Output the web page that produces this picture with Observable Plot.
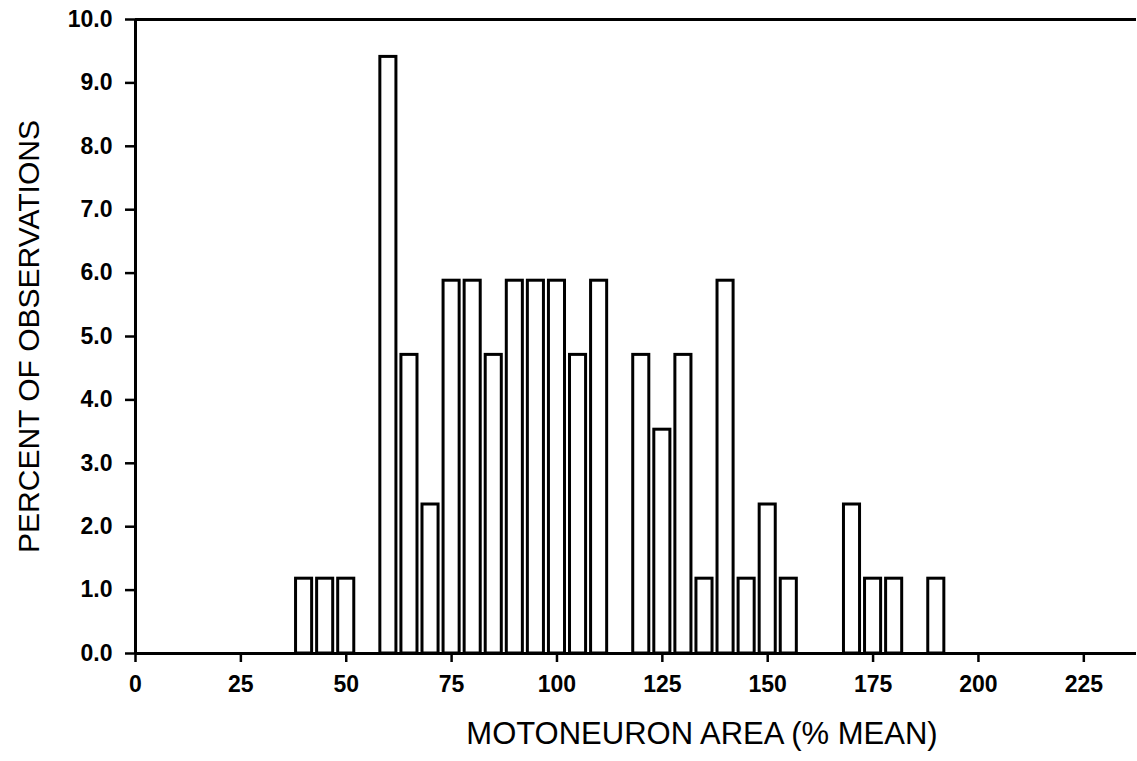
<!DOCTYPE html>
<html>
<head>
<meta charset="utf-8">
<script src="https://cdn.jsdelivr.net/npm/d3@7"></script>
<script src="https://cdn.jsdelivr.net/npm/@observablehq/plot@0.6"></script>
<style>
  html, body { margin: 0; padding: 0; background: #fff; }
  #chart svg { display: block; }
  g[aria-label="y-axis tick label"] text, g[aria-label="x-axis tick label"] text { font-weight: bold; }
</style>
</head>
<body>
<div id="chart"></div>
<script>
// Bin centers (% of mean motoneuron area) and percent of observations
const binCenters = [40, 45, 50, 60, 65, 70, 75, 80, 85, 90, 95, 100, 105, 110, 120, 125, 130, 135, 140, 145, 150, 155, 170, 175, 180, 190];
const percents = [1.18, 1.18, 1.18, 9.41, 4.71, 2.35, 5.88, 5.88, 4.71, 5.88, 5.88, 5.88, 4.71, 5.88, 4.71, 3.53, 4.71, 1.18, 5.88, 1.18, 2.35, 1.18, 2.35, 1.18, 1.18, 1.18];
const binWidth = 5;
const xTicks = [0, 25, 50, 75, 100, 125, 150, 175, 200, 225];
const yTicks = [0, 1, 2, 3, 4, 5, 6, 7, 8, 9, 10];
const xTitle = "MOTONEURON AREA (% MEAN)";
const yTitle = "PERCENT OF OBSERVATIONS";
const xMax = 237.5;
const yMax = 10;

const bars = binCenters.map((c, i) => ({x1: c - binWidth / 2, x2: c + binWidth / 2, y: percents[i]}));

const chart = Plot.plot({
  width: 1137,
  height: 761,
  marginLeft: 135,
  marginRight: 1,
  marginTop: 19,
  marginBottom: 108,
  style: {fontFamily: "'Liberation Sans', Arial, sans-serif", background: "#fff", color: "#000"},
  x: {domain: [0, xMax]},
  y: {domain: [0, yMax]},
  marks: [
    Plot.rectY(bars, {x1: "x1", x2: "x2", y: "y", fill: "white", stroke: "black", strokeWidth: 3, insetLeft: 2.5, insetRight: 2.5}),
    Plot.ruleY([0], {stroke: "black", strokeWidth: 3}),
    Plot.ruleY([yMax], {stroke: "black", strokeWidth: 3}),
    Plot.ruleX([0], {stroke: "black", strokeWidth: 3}),
    Plot.axisY({ticks: yTicks, tickFormat: d3.format(".1f"), tickSize: 10, tickPadding: 13, fontSize: 23, label: null, strokeWidth: 2.5}),
    Plot.axisX({ticks: xTicks, tickFormat: d3.format("d"), tickSize: 9, tickPadding: 13, fontSize: 23, label: null, strokeWidth: 2.5}),
    Plot.text([yTitle], {frameAnchor: "left", textAnchor: "middle", rotate: -90, dx: -106, fontSize: 30, fill: "black"}),
    Plot.text([xTitle], {frameAnchor: "bottom", dy: 90, dx: 66, fontSize: 31, fill: "black"})
  ]
});
document.getElementById("chart").appendChild(chart);
</script>
</body>
</html>
